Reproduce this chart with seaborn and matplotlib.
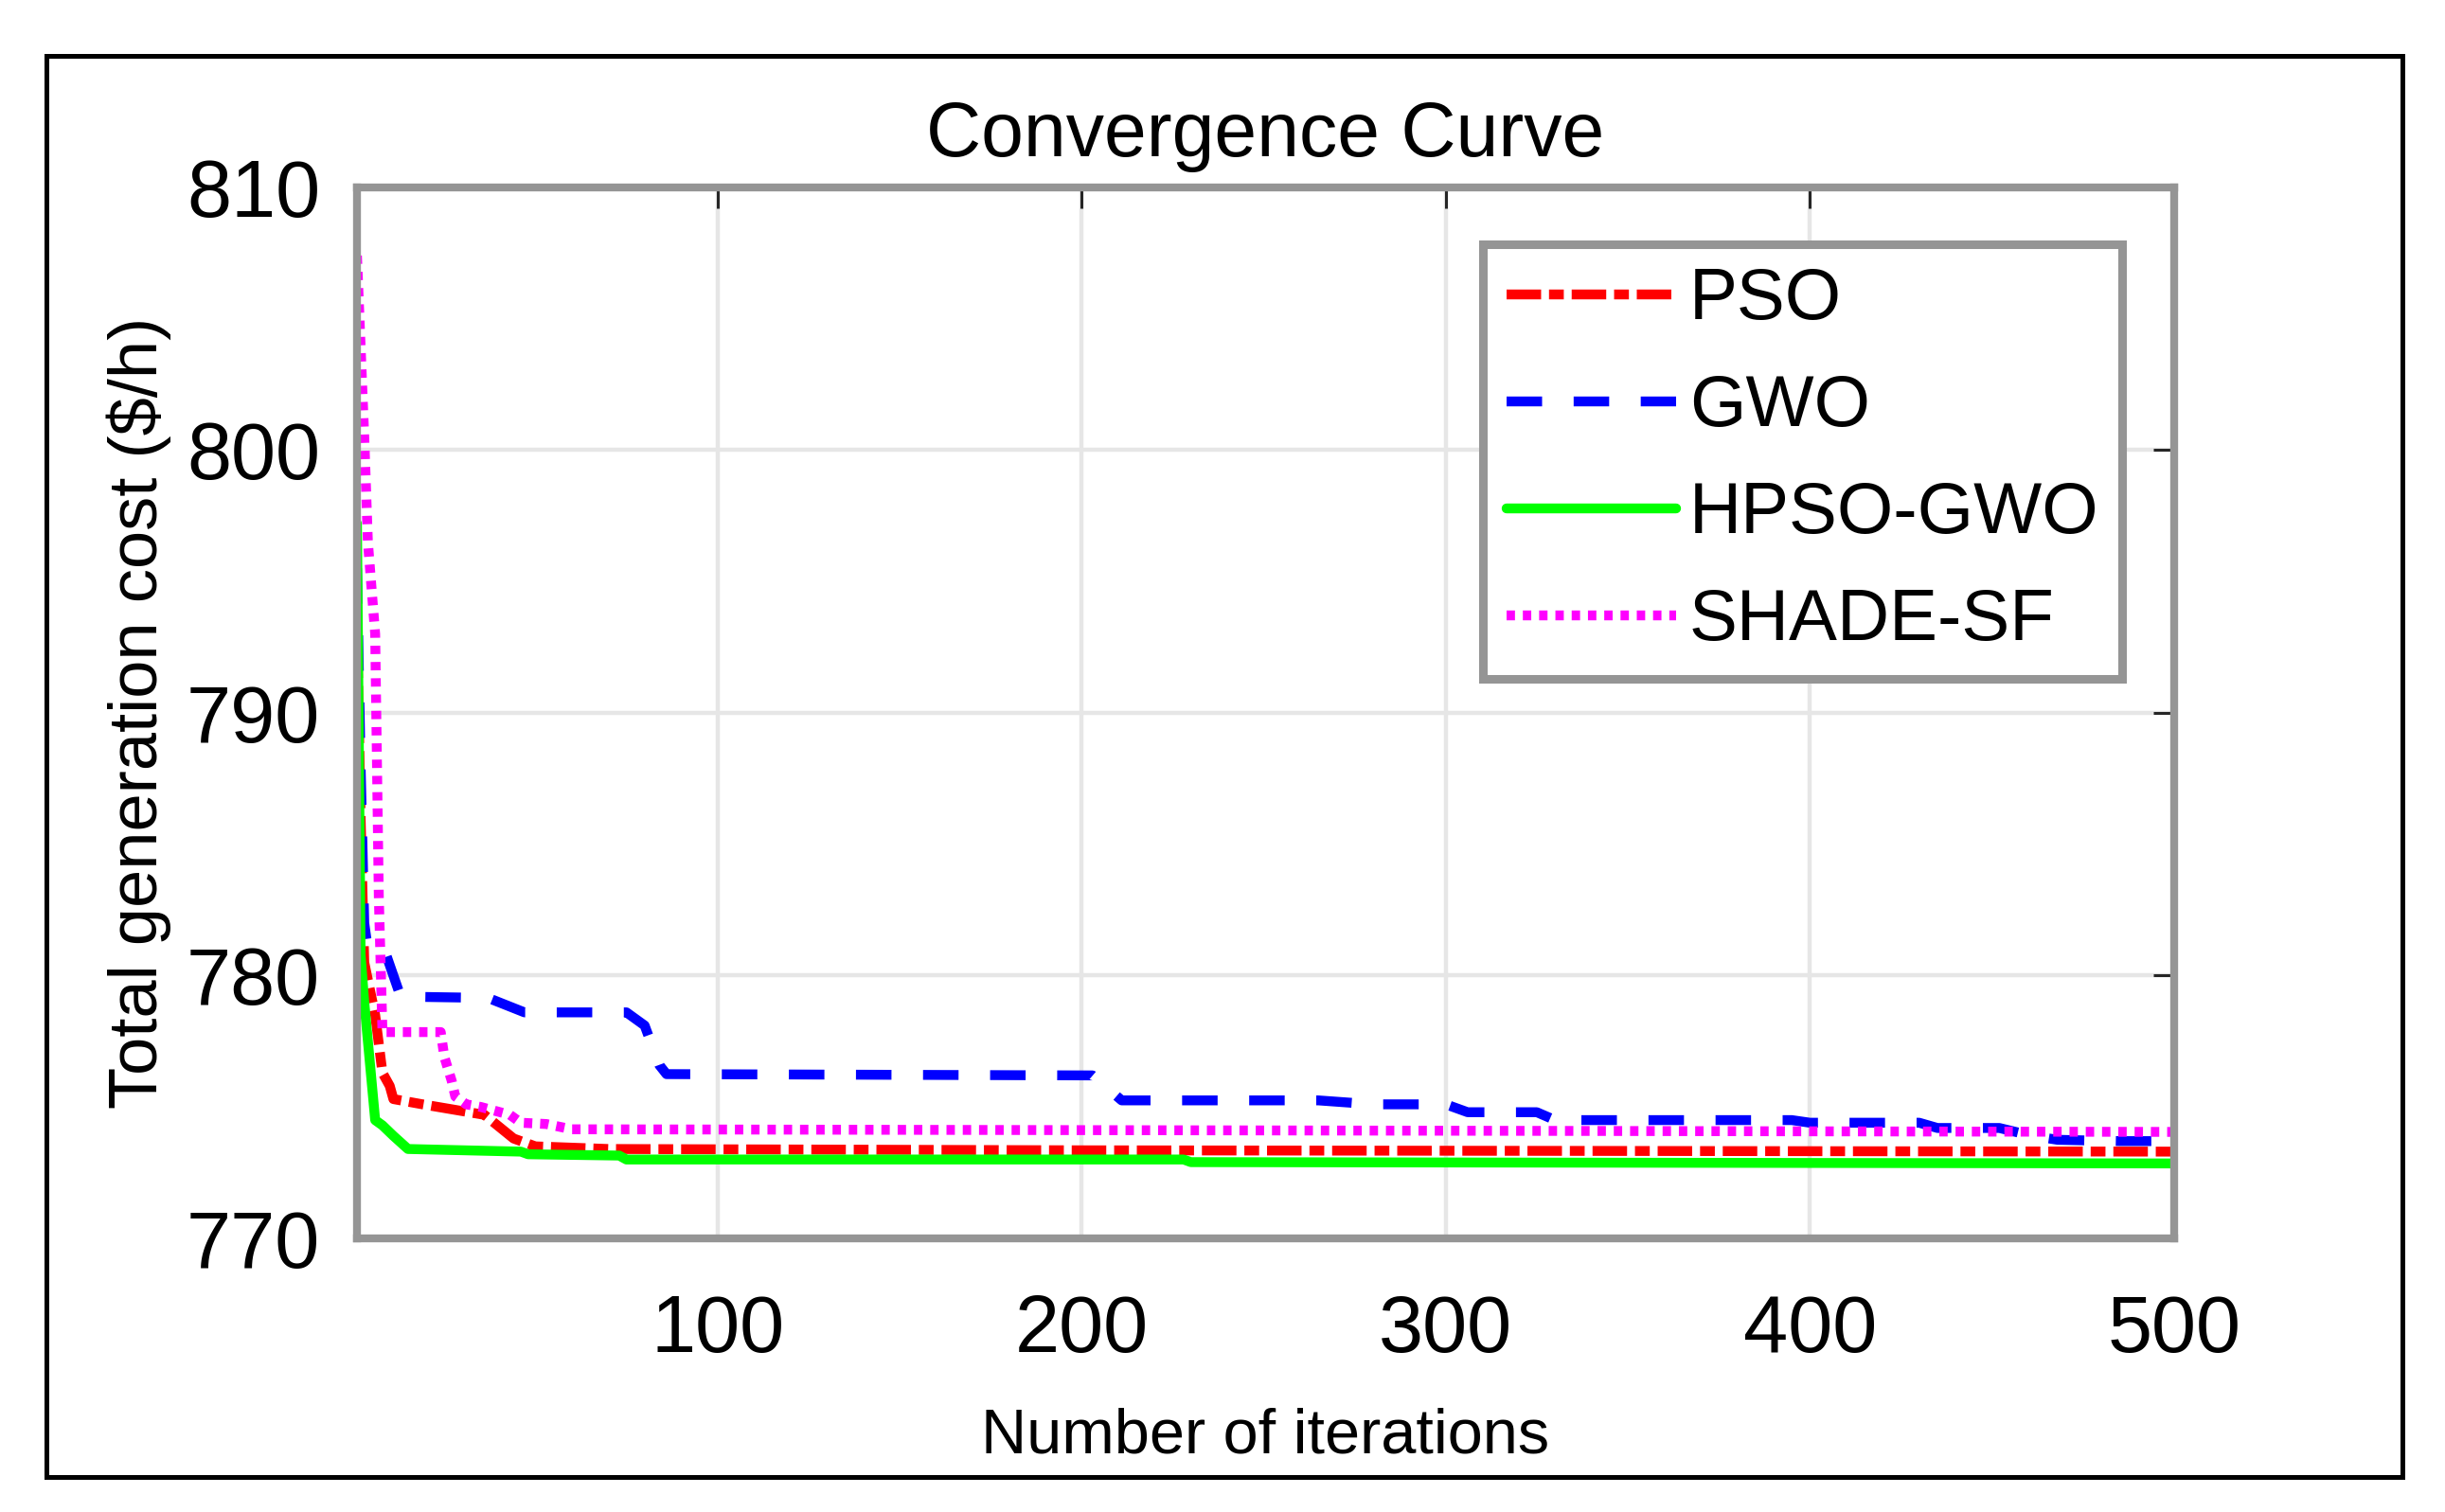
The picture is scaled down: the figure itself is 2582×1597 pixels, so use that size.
import matplotlib
matplotlib.use("Agg")
import matplotlib.pyplot as plt
import seaborn as sns
from matplotlib.patches import Rectangle

# series (iteration, total cost $/h)
pso_it = [1, 2, 3, 6, 8, 10, 11, 19, 36, 44, 50, 70, 200, 500]
pso_cost = [793.5, 786.0, 780.5, 778.5, 776.3, 775.8, 775.3, 775.1, 774.7,
            773.8, 773.5, 773.4, 773.35, 773.3]

gwo_it = [1, 2, 3, 4, 9, 11, 13, 37, 47, 75, 80, 84, 86, 203, 211, 265, 280,
          300, 306, 325, 330, 395, 400, 430, 435, 452, 461, 468, 485, 500]
gwo_cost = [795.5, 788.0, 782.0, 781.0, 780.8, 780.0, 779.2, 779.15, 778.6,
            778.6, 778.1, 776.6, 776.25, 776.2, 775.25, 775.25, 775.1, 775.1,
            774.8, 774.8, 774.5, 774.5, 774.4, 774.4, 774.2, 774.2, 773.9,
            773.75, 773.7, 773.7]

hyb_it = [1, 2, 3, 6, 8, 11, 15, 46, 48, 73, 75, 228, 230, 500]
hyb_cost = [797.2, 780.8, 779.0, 774.5, 774.3, 773.9, 773.4, 773.3, 773.2,
            773.15, 773.0, 773.0, 772.9, 772.85]

shade_it = [1, 3, 4, 6, 7, 8, 24, 25, 27, 28, 31, 35, 43, 46, 53, 60, 500]
shade_cost = [807.4, 800.5, 796.5, 793.0, 783.0, 777.85, 777.85, 776.9, 776.0,
              775.4, 775.1, 775.0, 774.7, 774.4, 774.35, 774.15, 774.05]

x_ticks = [100, 200, 300, 400, 500]
y_ticks = [770, 780, 790, 800, 810]

sns.set_style("white")
plt.rcParams["font.family"] = ["Liberation Sans", "DejaVu Sans"]
plt.rcParams["text.color"] = "black"
plt.rcParams["axes.labelcolor"] = "black"

fig = plt.figure(figsize=(25.82, 15.97), dpi=100)
ax = fig.add_axes([0.1460, 0.1810, 0.7432, 0.6951])

lw = 7.5
series = [
    (pso_it, pso_cost, "PSO", "#ff0000", (0, (3.5, 0.8, 1.5, 0.8))),
    (gwo_it, gwo_cost, "GWO", "#0000ff", (0, (3.6, 3.2))),
    (hyb_it, hyb_cost, "HPSO-GWO", "#00ff00", "-"),
    (shade_it, shade_cost, "SHADE-SF", "#ff00ff", (0, (0.85, 0.8))),
]
for it, cost, name, col, ls in series:
    sns.lineplot(x=it, y=cost, ax=ax, color=col, linewidth=lw, linestyle=ls,
                 label=name, estimator=None, sort=False)

ax.set_xlim(1, 500)
ax.set_ylim(770, 810)
ax.set_xticks(x_ticks)
ax.set_yticks(y_ticks)
ax.grid(True, color="#e6e6e6", linewidth=3.2)
ax.set_axisbelow(True)

for s in ax.spines.values():
    s.set_color("#959595")
    s.set_linewidth(6)

ax.tick_params(direction="in", length=16, width=2.2, color="#262626",
               labelsize=61, labelcolor="black", top=True, right=True)
ax.tick_params(axis="x", pad=42)
ax.tick_params(axis="y", pad=28)

ax.set_title("Convergence Curve", fontsize=58, pad=24, color="black")
ax.set_xlabel("Number of iterations", fontsize=48)
ax.set_ylabel("Total generation cost ($/h)", fontsize=52)
ax.xaxis.set_label_coords(0.5, -0.161)
ax.yaxis.set_label_coords(-0.102, 0.5)

leg = ax.legend(loc="upper right", bbox_to_anchor=(0.9713, 0.946),
                borderaxespad=0, fontsize=55, handlelength=2.35,
                handletextpad=0.18, labelspacing=0.55, borderpad=0.32,
                fancybox=False, framealpha=1, edgecolor="#959595")
leg.get_frame().set_linewidth(6.5)

# black frame around the whole figure
fig.patches.append(Rectangle((49 / 2582, 1 - 1560 / 1597), (2537 - 49) / 2582,
                             (1560 - 59) / 1597, transform=fig.transFigure,
                             fill=False, edgecolor="black", linewidth=3.6))

fig.savefig("out.png", dpi=100)
